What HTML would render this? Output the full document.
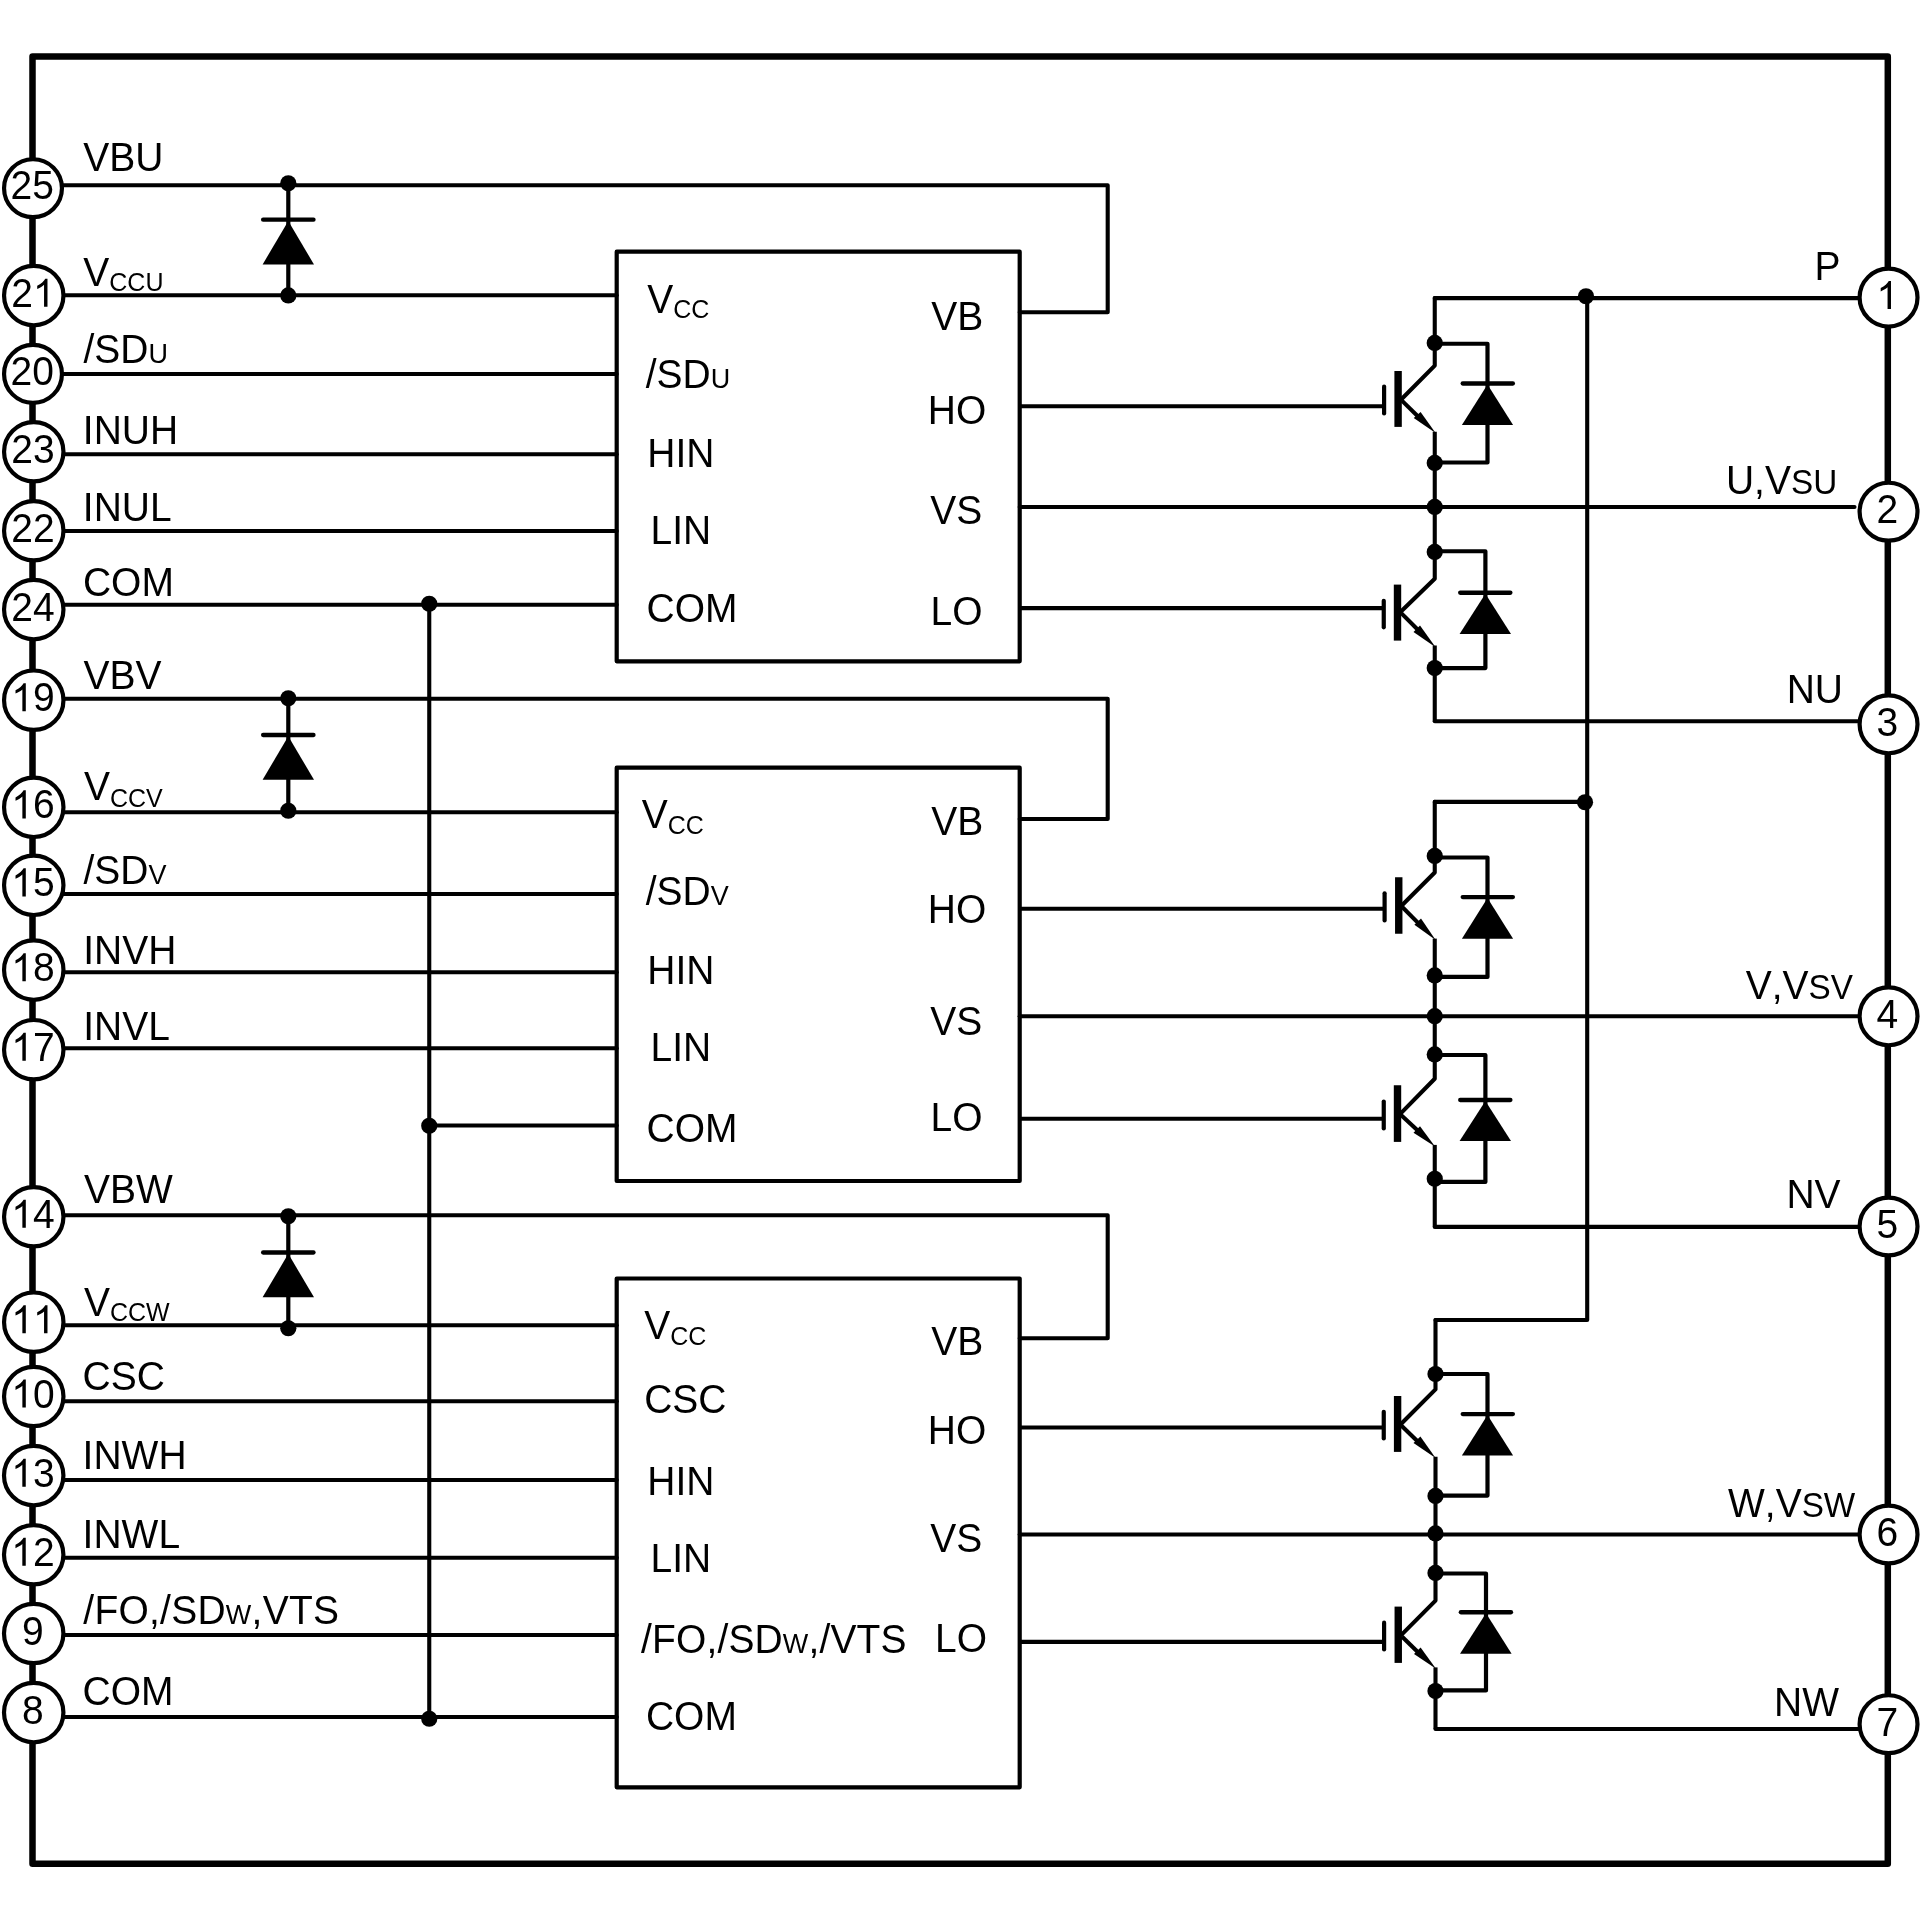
<!DOCTYPE html>
<html><head><meta charset="utf-8"><title>Block diagram</title>
<style>html,body{margin:0;padding:0;background:#fff}svg{display:block;will-change:transform}text{font-kerning:none;font-family:"Liberation Sans",sans-serif;fill:#000}</style>
</head><body>
<svg width="1920" height="1920" viewBox="0 0 1920 1920">
<rect width="1920" height="1920" fill="#fff"/>
<rect x="32.5" y="56.4" width="1855.3" height="1807.3999999999999" fill="none" stroke="#000" stroke-width="6.5" stroke-linejoin="round"/>
<polyline points="60,185.2 1107.7,185.2 1107.7,312.3 1019.7,312.3" fill="none" stroke="#000" stroke-width="4.1" stroke-linecap="round" stroke-linejoin="round"/>
<line x1="60" y1="295.2" x2="616.7" y2="295.2" stroke="#000" stroke-width="4.1" stroke-linecap="round"/>
<line x1="60" y1="374" x2="616.7" y2="374" stroke="#000" stroke-width="4.1" stroke-linecap="round"/>
<line x1="60" y1="454.2" x2="616.7" y2="454.2" stroke="#000" stroke-width="4.1" stroke-linecap="round"/>
<line x1="60" y1="531" x2="616.7" y2="531" stroke="#000" stroke-width="4.1" stroke-linecap="round"/>
<line x1="60" y1="604.8" x2="616.7" y2="604.8" stroke="#000" stroke-width="4.1" stroke-linecap="round"/>
<polyline points="60,698.7 1107.7,698.7 1107.7,819 1019.7,819" fill="none" stroke="#000" stroke-width="4.1" stroke-linecap="round" stroke-linejoin="round"/>
<line x1="60" y1="812.2" x2="616.7" y2="812.2" stroke="#000" stroke-width="4.1" stroke-linecap="round"/>
<line x1="60" y1="894" x2="616.7" y2="894" stroke="#000" stroke-width="4.1" stroke-linecap="round"/>
<line x1="60" y1="972.2" x2="616.7" y2="972.2" stroke="#000" stroke-width="4.1" stroke-linecap="round"/>
<line x1="60" y1="1048.3" x2="616.7" y2="1048.3" stroke="#000" stroke-width="4.1" stroke-linecap="round"/>
<polyline points="60,1215.3 1107.7,1215.3 1107.7,1338.3 1019.7,1338.3" fill="none" stroke="#000" stroke-width="4.1" stroke-linecap="round" stroke-linejoin="round"/>
<line x1="60" y1="1325.3" x2="616.7" y2="1325.3" stroke="#000" stroke-width="4.1" stroke-linecap="round"/>
<line x1="60" y1="1401.3" x2="616.7" y2="1401.3" stroke="#000" stroke-width="4.1" stroke-linecap="round"/>
<line x1="60" y1="1480" x2="616.7" y2="1480" stroke="#000" stroke-width="4.1" stroke-linecap="round"/>
<line x1="60" y1="1557.8" x2="616.7" y2="1557.8" stroke="#000" stroke-width="4.1" stroke-linecap="round"/>
<line x1="60" y1="1635" x2="616.7" y2="1635" stroke="#000" stroke-width="4.1" stroke-linecap="round"/>
<line x1="60" y1="1717" x2="616.7" y2="1717" stroke="#000" stroke-width="4.1" stroke-linecap="round"/>
<line x1="429.25" y1="604.8" x2="429.25" y2="1717" stroke="#000" stroke-width="4.1" stroke-linecap="round"/>
<line x1="429.25" y1="1125.5" x2="616.7" y2="1125.5" stroke="#000" stroke-width="4.1" stroke-linecap="round"/>
<circle cx="429.25" cy="603.75" r="8.1" fill="#000"/>
<circle cx="429.25" cy="1125.75" r="8.1" fill="#000"/>
<circle cx="429.25" cy="1718.75" r="8.1" fill="#000"/>
<line x1="288.3" y1="185.2" x2="288.3" y2="295.2" stroke="#000" stroke-width="4.2" stroke-linecap="round"/>
<line x1="263.1" y1="219.7" x2="313.5" y2="219.7" stroke="#000" stroke-width="4.3" stroke-linecap="round"/>
<polygon points="288.3,221.0 314.0,264.5 262.6,264.5" fill="#000"/>
<circle cx="288.3" cy="183.3" r="8.1" fill="#000"/>
<circle cx="288.3" cy="295.4" r="8.1" fill="#000"/>
<line x1="288.3" y1="698.7" x2="288.3" y2="812.2" stroke="#000" stroke-width="4.2" stroke-linecap="round"/>
<line x1="263.1" y1="735" x2="313.5" y2="735" stroke="#000" stroke-width="4.3" stroke-linecap="round"/>
<polygon points="288.3,736.3 314.0,779.8 262.6,779.8" fill="#000"/>
<circle cx="288.3" cy="698.25" r="8.1" fill="#000"/>
<circle cx="288.3" cy="810.75" r="8.1" fill="#000"/>
<line x1="288.3" y1="1215.3" x2="288.3" y2="1325.3" stroke="#000" stroke-width="4.2" stroke-linecap="round"/>
<line x1="263.1" y1="1252.5" x2="313.5" y2="1252.5" stroke="#000" stroke-width="4.3" stroke-linecap="round"/>
<polygon points="288.3,1253.8 314.0,1297.3 262.6,1297.3" fill="#000"/>
<circle cx="288.3" cy="1216.25" r="8.1" fill="#000"/>
<circle cx="288.3" cy="1328.25" r="8.1" fill="#000"/>
<rect x="616.7" y="251.7" width="403.0" height="409.59999999999997" fill="none" stroke="#000" stroke-width="4.2" stroke-linejoin="round"/>
<rect x="616.7" y="767.7" width="403.0" height="413.29999999999995" fill="none" stroke="#000" stroke-width="4.2" stroke-linejoin="round"/>
<rect x="616.7" y="1278.5" width="403.0" height="508.79999999999995" fill="none" stroke="#000" stroke-width="4.2" stroke-linejoin="round"/>
<line x1="1019.7" y1="406.25" x2="1384.1" y2="406.25" stroke="#000" stroke-width="4.1" stroke-linecap="butt"/>
<line x1="1384.1" y1="386.5" x2="1384.1" y2="413.5" stroke="#000" stroke-width="4.2" stroke-linecap="round"/>
<rect x="1394.3999999999999" y="371" width="7.4" height="55.89999999999998" fill="#000"/>
<polyline points="1434.75,298.1 1434.75,365.6 1401.9,398.75" fill="none" stroke="#000" stroke-width="4.1" stroke-linecap="round" stroke-linejoin="round"/>
<line x1="1401.9" y1="400.6" x2="1422.12" y2="420.49" stroke="#000" stroke-width="4.1" stroke-linecap="butt"/>
<line x1="1434.75" y1="431.75" x2="1434.75" y2="507" stroke="#000" stroke-width="4.1" stroke-linecap="butt"/>
<polygon points="1435.6,433.1 1420.6,411.9 1413.75,418.1" fill="#000"/>
<polyline points="1434.75,343.75 1487.5,343.75 1487.5,462.5 1434.75,462.5" fill="none" stroke="#000" stroke-width="4.2" stroke-linecap="round" stroke-linejoin="round"/>
<line x1="1462.6999999999998" y1="383.5" x2="1512.9" y2="383.5" stroke="#000" stroke-width="4.3" stroke-linecap="round"/>
<polygon points="1487.5,384.5 1513.1,425 1461.9,425" fill="#000"/>
<circle cx="1434.75" cy="342.9" r="8.1" fill="#000"/>
<circle cx="1434.75" cy="462.9" r="8.1" fill="#000"/>
<line x1="1019.7" y1="608.1" x2="1383.75" y2="608.1" stroke="#000" stroke-width="4.1" stroke-linecap="butt"/>
<line x1="1383.75" y1="600.85" x2="1383.75" y2="627.3" stroke="#000" stroke-width="4.2" stroke-linecap="round"/>
<rect x="1393.8" y="584.6" width="7.4" height="56.0" fill="#000"/>
<polyline points="1434.75,507 1434.75,578.75 1401.25,611.25" fill="none" stroke="#000" stroke-width="4.1" stroke-linecap="round" stroke-linejoin="round"/>
<line x1="1401.25" y1="613.1" x2="1421.86" y2="633.74" stroke="#000" stroke-width="4.1" stroke-linecap="butt"/>
<line x1="1434.75" y1="645.5" x2="1434.75" y2="721.25" stroke="#000" stroke-width="4.1" stroke-linecap="butt"/>
<polygon points="1435.6,647.25 1420,625.6 1413.5,631.9" fill="#000"/>
<polyline points="1434.75,551.25 1485.4,551.25 1485.4,668.1 1434.75,668.1" fill="none" stroke="#000" stroke-width="4.2" stroke-linecap="round" stroke-linejoin="round"/>
<line x1="1460.1999999999998" y1="592.75" x2="1510.4" y2="592.75" stroke="#000" stroke-width="4.3" stroke-linecap="round"/>
<polygon points="1485.4,593.75 1511,634 1459.6,634" fill="#000"/>
<circle cx="1434.75" cy="551.9" r="8.1" fill="#000"/>
<circle cx="1434.75" cy="668.1" r="8.1" fill="#000"/>
<line x1="1019.7" y1="908.75" x2="1384.6" y2="908.75" stroke="#000" stroke-width="4.1" stroke-linecap="butt"/>
<line x1="1384.6" y1="893.35" x2="1384.6" y2="920.4" stroke="#000" stroke-width="4.2" stroke-linecap="round"/>
<rect x="1395.05" y="877.25" width="7.4" height="56.5" fill="#000"/>
<polyline points="1434.75,801.9 1434.75,872.5 1402.25,905" fill="none" stroke="#000" stroke-width="4.1" stroke-linecap="round" stroke-linejoin="round"/>
<line x1="1402.25" y1="907" x2="1422.26" y2="927.16" stroke="#000" stroke-width="4.1" stroke-linecap="butt"/>
<line x1="1434.75" y1="938.6" x2="1434.75" y2="1016.2" stroke="#000" stroke-width="4.1" stroke-linecap="butt"/>
<polygon points="1435.6,940 1421,918.4 1414.4,924.75" fill="#000"/>
<polyline points="1434.75,857.5 1487.5,857.5 1487.5,976.9 1434.75,976.9" fill="none" stroke="#000" stroke-width="4.2" stroke-linecap="round" stroke-linejoin="round"/>
<line x1="1462.6999999999998" y1="897.1" x2="1512.9" y2="897.1" stroke="#000" stroke-width="4.3" stroke-linecap="round"/>
<polygon points="1487.5,898.1 1513.1,938.75 1461.9,938.75" fill="#000"/>
<circle cx="1434.75" cy="855.9" r="8.1" fill="#000"/>
<circle cx="1434.75" cy="975.4" r="8.1" fill="#000"/>
<line x1="1019.7" y1="1118.75" x2="1383.75" y2="1118.75" stroke="#000" stroke-width="4.1" stroke-linecap="butt"/>
<line x1="1383.75" y1="1101.5" x2="1383.75" y2="1128.5" stroke="#000" stroke-width="4.2" stroke-linecap="round"/>
<rect x="1393.8" y="1085.25" width="7.4" height="56.65000000000009" fill="#000"/>
<polyline points="1434.75,1016.2 1434.75,1078.75 1401,1113.1" fill="none" stroke="#000" stroke-width="4.1" stroke-linecap="round" stroke-linejoin="round"/>
<line x1="1401" y1="1115" x2="1421.76" y2="1134.14" stroke="#000" stroke-width="4.1" stroke-linecap="butt"/>
<line x1="1434.75" y1="1144.9" x2="1434.75" y2="1226.9" stroke="#000" stroke-width="4.1" stroke-linecap="butt"/>
<polygon points="1435,1146.5 1420,1126.25 1413.5,1132.75" fill="#000"/>
<polyline points="1434.75,1055 1485.4,1055 1485.4,1181.9 1434.75,1181.9" fill="none" stroke="#000" stroke-width="4.2" stroke-linecap="round" stroke-linejoin="round"/>
<line x1="1460.1999999999998" y1="1100" x2="1510.4" y2="1100" stroke="#000" stroke-width="4.3" stroke-linecap="round"/>
<polygon points="1485.4,1101 1511,1141 1459.6,1141" fill="#000"/>
<circle cx="1434.75" cy="1054.4" r="8.1" fill="#000"/>
<circle cx="1434.75" cy="1178.75" r="8.1" fill="#000"/>
<line x1="1019.7" y1="1427.5" x2="1383.75" y2="1427.5" stroke="#000" stroke-width="4.1" stroke-linecap="butt"/>
<line x1="1383.75" y1="1411.85" x2="1383.75" y2="1438.5" stroke="#000" stroke-width="4.2" stroke-linecap="round"/>
<rect x="1393.8999999999999" y="1396" width="7.4" height="55.90000000000009" fill="#000"/>
<polyline points="1435.5,1320 1435.5,1389.4 1401.25,1423.75" fill="none" stroke="#000" stroke-width="4.1" stroke-linecap="round" stroke-linejoin="round"/>
<line x1="1401.25" y1="1425.6" x2="1421.86" y2="1445.49" stroke="#000" stroke-width="4.1" stroke-linecap="butt"/>
<line x1="1435.5" y1="1456.75" x2="1435.5" y2="1534.3" stroke="#000" stroke-width="4.1" stroke-linecap="butt"/>
<polygon points="1435.6,1458.1 1420.4,1436.6 1413.5,1443.1" fill="#000"/>
<polyline points="1435.5,1374 1487.5,1374 1487.5,1495.6 1435.5,1495.6" fill="none" stroke="#000" stroke-width="4.2" stroke-linecap="round" stroke-linejoin="round"/>
<line x1="1462.6999999999998" y1="1414.1" x2="1512.9" y2="1414.1" stroke="#000" stroke-width="4.3" stroke-linecap="round"/>
<polygon points="1487.5,1415.1 1513.1,1455.6 1461.9,1455.6" fill="#000"/>
<circle cx="1435.5" cy="1374" r="8.1" fill="#000"/>
<circle cx="1435.5" cy="1495.9" r="8.1" fill="#000"/>
<line x1="1019.7" y1="1641.9" x2="1384.1" y2="1641.9" stroke="#000" stroke-width="4.1" stroke-linecap="butt"/>
<line x1="1384.1" y1="1622.6999999999998" x2="1384.1" y2="1649.5" stroke="#000" stroke-width="4.2" stroke-linecap="round"/>
<rect x="1394.55" y="1606.6" width="7.4" height="56.30000000000018" fill="#000"/>
<polyline points="1435.5,1534.3 1435.5,1600.6 1401.9,1634.4" fill="none" stroke="#000" stroke-width="4.1" stroke-linecap="round" stroke-linejoin="round"/>
<line x1="1401.9" y1="1636.5" x2="1422.12" y2="1656.24" stroke="#000" stroke-width="4.1" stroke-linecap="butt"/>
<line x1="1435.5" y1="1667.4" x2="1435.5" y2="1729.1" stroke="#000" stroke-width="4.1" stroke-linecap="butt"/>
<polygon points="1436,1668.75 1420.6,1647.5 1414,1654.1" fill="#000"/>
<polyline points="1435.5,1573.5 1486,1573.5 1486,1690.4 1435.5,1690.4" fill="none" stroke="#000" stroke-width="4.2" stroke-linecap="round" stroke-linejoin="round"/>
<line x1="1460.85" y1="1612.25" x2="1511.0" y2="1612.25" stroke="#000" stroke-width="4.3" stroke-linecap="round"/>
<polygon points="1486,1613.25 1511.6,1653.75 1460,1653.75" fill="#000"/>
<circle cx="1435.5" cy="1572.9" r="8.1" fill="#000"/>
<circle cx="1435.5" cy="1691" r="8.1" fill="#000"/>
<polyline points="1434.75,298.1 1860,298.1" fill="none" stroke="#000" stroke-width="4.1" stroke-linecap="round" stroke-linejoin="round"/>
<polyline points="1434.75,801.9 1587.2,801.9" fill="none" stroke="#000" stroke-width="4.1" stroke-linecap="round" stroke-linejoin="round"/>
<polyline points="1435.5,1320 1587.2,1320 1587.2,298.1" fill="none" stroke="#000" stroke-width="4.1" stroke-linecap="round" stroke-linejoin="round"/>
<circle cx="1586" cy="296.25" r="8.1" fill="#000"/>
<circle cx="1585" cy="802.25" r="8.1" fill="#000"/>
<line x1="1019.7" y1="507" x2="1854.5" y2="507" stroke="#000" stroke-width="4.1" stroke-linecap="round"/>
<circle cx="1434.75" cy="506.9" r="8.1" fill="#000"/>
<line x1="1019.7" y1="1016.2" x2="1860" y2="1016.2" stroke="#000" stroke-width="4.1" stroke-linecap="round"/>
<circle cx="1434.75" cy="1016.2" r="8.1" fill="#000"/>
<line x1="1019.7" y1="1534.5" x2="1860" y2="1534.5" stroke="#000" stroke-width="4.1" stroke-linecap="round"/>
<circle cx="1435.5" cy="1533.4" r="8.1" fill="#000"/>
<polyline points="1434.75,721.3 1860,721.3" fill="none" stroke="#000" stroke-width="4.1" stroke-linecap="round" stroke-linejoin="round"/>
<polyline points="1434.75,1226.9 1860,1226.9" fill="none" stroke="#000" stroke-width="4.1" stroke-linecap="round" stroke-linejoin="round"/>
<polyline points="1435.5,1729 1860,1729" fill="none" stroke="#000" stroke-width="4.1" stroke-linecap="round" stroke-linejoin="round"/>
<circle cx="33" cy="188.2" r="28.95" fill="#fff" stroke="#000" stroke-width="4.2"/>
<text transform="translate(10.52 199.3) scale(1 1.035)" font-size="39.0">2</text>
<text transform="translate(32.2 199.3) scale(1 1.035)" font-size="39.0">5</text>
<circle cx="33.75" cy="295.6" r="29.7" fill="#fff" stroke="#000" stroke-width="4.2"/>
<text transform="translate(11.27 306.7) scale(1 1.035)" font-size="39.0">2</text>
<path transform="translate(32.95 306.7) scale(0.01904 -0.01904)" d="M763 0H583V1147Q518 1085 412 1023Q307 961 223 930V1104Q374 1175 487 1276Q600 1377 647 1472H763Z" fill="#000"/>
<circle cx="33" cy="373.9" r="28.95" fill="#fff" stroke="#000" stroke-width="4.2"/>
<text transform="translate(10.52 385.0) scale(1 1.035)" font-size="39.0">2</text>
<text transform="translate(32.2 385.0) scale(1 1.035)" font-size="39.0">0</text>
<circle cx="33.75" cy="451.75" r="29.7" fill="#fff" stroke="#000" stroke-width="4.2"/>
<text transform="translate(11.27 462.85) scale(1 1.035)" font-size="39.0">2</text>
<text transform="translate(32.95 462.85) scale(1 1.035)" font-size="39.0">3</text>
<circle cx="33.75" cy="530.75" r="29.7" fill="#fff" stroke="#000" stroke-width="4.2"/>
<text transform="translate(11.27 541.85) scale(1 1.035)" font-size="39.0">2</text>
<text transform="translate(32.95 541.85) scale(1 1.035)" font-size="39.0">2</text>
<circle cx="33.75" cy="609.6" r="29.7" fill="#fff" stroke="#000" stroke-width="4.2"/>
<text transform="translate(11.27 620.7) scale(1 1.035)" font-size="39.0">2</text>
<text transform="translate(32.95 620.7) scale(1 1.035)" font-size="39.0">4</text>
<circle cx="33.75" cy="700.2" r="29.7" fill="#fff" stroke="#000" stroke-width="4.2"/>
<path transform="translate(11.27 711.3) scale(0.01904 -0.01904)" d="M763 0H583V1147Q518 1085 412 1023Q307 961 223 930V1104Q374 1175 487 1276Q600 1377 647 1472H763Z" fill="#000"/>
<text transform="translate(32.95 711.3) scale(1 1.035)" font-size="39.0">9</text>
<circle cx="33.75" cy="807.3" r="29.7" fill="#fff" stroke="#000" stroke-width="4.2"/>
<path transform="translate(11.27 818.4) scale(0.01904 -0.01904)" d="M763 0H583V1147Q518 1085 412 1023Q307 961 223 930V1104Q374 1175 487 1276Q600 1377 647 1472H763Z" fill="#000"/>
<text transform="translate(32.95 818.4) scale(1 1.035)" font-size="39.0">6</text>
<circle cx="33.75" cy="885.3" r="29.7" fill="#fff" stroke="#000" stroke-width="4.2"/>
<path transform="translate(11.27 896.4) scale(0.01904 -0.01904)" d="M763 0H583V1147Q518 1085 412 1023Q307 961 223 930V1104Q374 1175 487 1276Q600 1377 647 1472H763Z" fill="#000"/>
<text transform="translate(32.95 896.4) scale(1 1.035)" font-size="39.0">5</text>
<circle cx="33.75" cy="970.1" r="29.7" fill="#fff" stroke="#000" stroke-width="4.2"/>
<path transform="translate(11.27 981.2) scale(0.01904 -0.01904)" d="M763 0H583V1147Q518 1085 412 1023Q307 961 223 930V1104Q374 1175 487 1276Q600 1377 647 1472H763Z" fill="#000"/>
<text transform="translate(32.95 981.2) scale(1 1.035)" font-size="39.0">8</text>
<circle cx="33.75" cy="1049.7" r="29.7" fill="#fff" stroke="#000" stroke-width="4.2"/>
<path transform="translate(11.27 1060.8) scale(0.01904 -0.01904)" d="M763 0H583V1147Q518 1085 412 1023Q307 961 223 930V1104Q374 1175 487 1276Q600 1377 647 1472H763Z" fill="#000"/>
<text transform="translate(32.95 1060.8) scale(1 1.035)" font-size="39.0">7</text>
<circle cx="33.75" cy="1216.75" r="29.7" fill="#fff" stroke="#000" stroke-width="4.2"/>
<path transform="translate(11.27 1227.85) scale(0.01904 -0.01904)" d="M763 0H583V1147Q518 1085 412 1023Q307 961 223 930V1104Q374 1175 487 1276Q600 1377 647 1472H763Z" fill="#000"/>
<text transform="translate(32.95 1227.85) scale(1 1.035)" font-size="39.0">4</text>
<circle cx="33.75" cy="1322.2" r="29.7" fill="#fff" stroke="#000" stroke-width="4.2"/>
<path transform="translate(11.27 1333.3) scale(0.01904 -0.01904)" d="M763 0H583V1147Q518 1085 412 1023Q307 961 223 930V1104Q374 1175 487 1276Q600 1377 647 1472H763Z" fill="#000"/>
<path transform="translate(32.95 1333.3) scale(0.01904 -0.01904)" d="M763 0H583V1147Q518 1085 412 1023Q307 961 223 930V1104Q374 1175 487 1276Q600 1377 647 1472H763Z" fill="#000"/>
<circle cx="33.75" cy="1396.5" r="29.7" fill="#fff" stroke="#000" stroke-width="4.2"/>
<path transform="translate(11.27 1407.6) scale(0.01904 -0.01904)" d="M763 0H583V1147Q518 1085 412 1023Q307 961 223 930V1104Q374 1175 487 1276Q600 1377 647 1472H763Z" fill="#000"/>
<text transform="translate(32.95 1407.6) scale(1 1.035)" font-size="39.0">0</text>
<circle cx="33.7" cy="1475.6" r="29.7" fill="#fff" stroke="#000" stroke-width="4.2"/>
<path transform="translate(11.22 1486.7) scale(0.01904 -0.01904)" d="M763 0H583V1147Q518 1085 412 1023Q307 961 223 930V1104Q374 1175 487 1276Q600 1377 647 1472H763Z" fill="#000"/>
<text transform="translate(32.9 1486.7) scale(1 1.035)" font-size="39.0">3</text>
<circle cx="33.7" cy="1554.75" r="29.7" fill="#fff" stroke="#000" stroke-width="4.2"/>
<path transform="translate(11.22 1565.85) scale(0.01904 -0.01904)" d="M763 0H583V1147Q518 1085 412 1023Q307 961 223 930V1104Q374 1175 487 1276Q600 1377 647 1472H763Z" fill="#000"/>
<text transform="translate(32.9 1565.85) scale(1 1.035)" font-size="39.0">2</text>
<circle cx="33.7" cy="1633.5" r="29.7" fill="#fff" stroke="#000" stroke-width="4.2"/>
<text transform="translate(22.06 1644.6) scale(1 1.035)" font-size="39.0">9</text>
<circle cx="33.7" cy="1712.6" r="29.7" fill="#fff" stroke="#000" stroke-width="4.2"/>
<text transform="translate(22.06 1723.7) scale(1 1.035)" font-size="39.0">8</text>
<circle cx="1888.55" cy="297.6" r="28.95" fill="#fff" stroke="#000" stroke-width="4.2"/>
<path transform="translate(1876.46 309.1) scale(0.01904 -0.01904)" d="M763 0H583V1147Q518 1085 412 1023Q307 961 223 930V1104Q374 1175 487 1276Q600 1377 647 1472H763Z" fill="#000"/>
<circle cx="1888.55" cy="511.7" r="28.95" fill="#fff" stroke="#000" stroke-width="4.2"/>
<text transform="translate(1876.46 523.2) scale(1 1.035)" font-size="39.0">2</text>
<circle cx="1888.55" cy="724.3" r="28.95" fill="#fff" stroke="#000" stroke-width="4.2"/>
<text transform="translate(1876.46 735.8) scale(1 1.035)" font-size="39.0">3</text>
<circle cx="1888.55" cy="1016.3" r="28.95" fill="#fff" stroke="#000" stroke-width="4.2"/>
<text transform="translate(1876.46 1027.8) scale(1 1.035)" font-size="39.0">4</text>
<circle cx="1888.55" cy="1226.5" r="28.95" fill="#fff" stroke="#000" stroke-width="4.2"/>
<text transform="translate(1876.46 1238.0) scale(1 1.035)" font-size="39.0">5</text>
<circle cx="1888.55" cy="1534.5" r="28.95" fill="#fff" stroke="#000" stroke-width="4.2"/>
<text transform="translate(1876.46 1546.0) scale(1 1.035)" font-size="39.0">6</text>
<circle cx="1888.55" cy="1724.2" r="28.95" fill="#fff" stroke="#000" stroke-width="4.2"/>
<text transform="translate(1876.46 1735.7) scale(1 1.035)" font-size="39.0">7</text>
<text transform="translate(83.3 170.8) scale(1 1.035)" font-size="39.0" text-anchor="start">VBU</text>
<text transform="translate(83.3 285.8) scale(1 1.035)" font-size="39.0">V<tspan font-size="25" dy="4.830917874396135">CCU</tspan></text>
<text transform="translate(83.5 363) scale(1 1.035)" font-size="39.0">/SD<tspan font-size="27">U</tspan></text>
<text transform="translate(82.8 443.75) scale(1 1.035)" font-size="39.0" text-anchor="start">INUH</text>
<text transform="translate(82.8 521.25) scale(1 1.035)" font-size="39.0" text-anchor="start">INUL</text>
<text transform="translate(82.9 596.25) scale(1 1.035)" font-size="39.0" text-anchor="start">COM</text>
<text transform="translate(83.5 688.75) scale(1 1.035)" font-size="39.0" text-anchor="start">VBV</text>
<text transform="translate(84 800) scale(1 1.035)" font-size="39.0">V<tspan font-size="25" dy="6.76328502415459">CCV</tspan></text>
<text transform="translate(83.5 883.75) scale(1 1.035)" font-size="39.0">/SD<tspan font-size="27">V</tspan></text>
<text transform="translate(83.2 963.75) scale(1 1.035)" font-size="39.0" text-anchor="start">INVH</text>
<text transform="translate(83.2 1039.5) scale(1 1.035)" font-size="39.0" text-anchor="start">INVL</text>
<text transform="translate(84 1202.5) scale(1 1.035)" font-size="39.0" text-anchor="start">VBW</text>
<text transform="translate(84 1316.25) scale(1 1.035)" font-size="39.0">V<tspan font-size="25" dy="4.830917874396135">CCW</tspan></text>
<text transform="translate(82.5 1389.5) scale(1 1.035)" font-size="39.0" text-anchor="start">CSC</text>
<text transform="translate(82.6 1468.75) scale(1 1.035)" font-size="39.0" text-anchor="start">INWH</text>
<text transform="translate(82.6 1547.75) scale(1 1.035)" font-size="39.0" text-anchor="start">INWL</text>
<text transform="translate(83.3 1623.75) scale(1 1.035)" font-size="39.0" letter-spacing="0.25">/FO,/SD<tspan font-size="27">W</tspan>,VTS</text>
<text transform="translate(82.5 1705) scale(1 1.035)" font-size="39.0" text-anchor="start">COM</text>
<text transform="translate(647.3 313.3) scale(1 1.035)" font-size="39.0">V<tspan font-size="25" dy="4.830917874396135">CC</tspan></text>
<text transform="translate(645.7 388.3) scale(1 1.035)" font-size="39.0">/SD<tspan font-size="27">U</tspan></text>
<text transform="translate(647.3 466.7) scale(1 1.035)" font-size="39.0" text-anchor="start">HIN</text>
<text transform="translate(650.5 544) scale(1 1.035)" font-size="39.0" text-anchor="start">LIN</text>
<text transform="translate(646.5 622.3) scale(1 1.035)" font-size="39.0" text-anchor="start">COM</text>
<text transform="translate(931.3 330) scale(1 1.035)" font-size="39.0" text-anchor="start">VB</text>
<text transform="translate(927.8 424) scale(1 1.035)" font-size="39.0" text-anchor="start">HO</text>
<text transform="translate(930.2 524.3) scale(1 1.035)" font-size="39.0" text-anchor="start">VS</text>
<text transform="translate(930.5 625) scale(1 1.035)" font-size="39.0" text-anchor="start">LO</text>
<text transform="translate(641.7 828.3) scale(1 1.035)" font-size="39.0">V<tspan font-size="25" dy="5.507246376811595">CC</tspan></text>
<text transform="translate(645.7 905) scale(1 1.035)" font-size="39.0">/SD<tspan font-size="27">V</tspan></text>
<text transform="translate(647.3 984) scale(1 1.035)" font-size="39.0" text-anchor="start">HIN</text>
<text transform="translate(650.5 1061) scale(1 1.035)" font-size="39.0" text-anchor="start">LIN</text>
<text transform="translate(646.5 1142.3) scale(1 1.035)" font-size="39.0" text-anchor="start">COM</text>
<text transform="translate(931.3 835) scale(1 1.035)" font-size="39.0" text-anchor="start">VB</text>
<text transform="translate(927.8 923.3) scale(1 1.035)" font-size="39.0" text-anchor="start">HO</text>
<text transform="translate(930.2 1035) scale(1 1.035)" font-size="39.0" text-anchor="start">VS</text>
<text transform="translate(930.5 1130.7) scale(1 1.035)" font-size="39.0" text-anchor="start">LO</text>
<text transform="translate(644.3 1339.3) scale(1 1.035)" font-size="39.0">V<tspan font-size="25" dy="5.507246376811595">CC</tspan></text>
<text transform="translate(644.2 1413.3) scale(1 1.035)" font-size="39.0" text-anchor="start">CSC</text>
<text transform="translate(647.3 1495) scale(1 1.035)" font-size="39.0" text-anchor="start">HIN</text>
<text transform="translate(650.5 1571.7) scale(1 1.035)" font-size="39.0" text-anchor="start">LIN</text>
<text transform="translate(641 1652.7) scale(1 1.035)" font-size="39.0" letter-spacing="0.15">/FO,/SD<tspan font-size="27">W</tspan>,/VTS</text>
<text transform="translate(645.9 1730) scale(1 1.035)" font-size="39.0" text-anchor="start">COM</text>
<text transform="translate(931.3 1355) scale(1 1.035)" font-size="39.0" text-anchor="start">VB</text>
<text transform="translate(927.8 1444) scale(1 1.035)" font-size="39.0" text-anchor="start">HO</text>
<text transform="translate(930.2 1551.7) scale(1 1.035)" font-size="39.0" text-anchor="start">VS</text>
<text transform="translate(935 1651.7) scale(1 1.035)" font-size="39.0" text-anchor="start">LO</text>
<text transform="translate(1814.5 279.6) scale(1 1.035)" font-size="39.0" text-anchor="start">P</text>
<text transform="translate(1837.2 493.7) scale(1 1.035)" font-size="39.0" text-anchor="end">U,V<tspan font-size="33.3">SU</tspan></text>
<text transform="translate(1843 702.8) scale(1 1.035)" font-size="39.0" text-anchor="end">NU</text>
<text transform="translate(1853 998.7) scale(1 1.035)" font-size="39.0" text-anchor="end">V,V<tspan font-size="33.3">SV</tspan></text>
<text transform="translate(1840.6 1207.8) scale(1 1.035)" font-size="39.0" text-anchor="end">NV</text>
<text transform="translate(1855.3 1516.7) scale(1 1.035)" font-size="39.0" text-anchor="end">W,V<tspan font-size="33.3">SW</tspan></text>
<text transform="translate(1839 1715.8) scale(1 1.035)" font-size="39.0" text-anchor="end">NW</text>
</svg>
</body></html>
